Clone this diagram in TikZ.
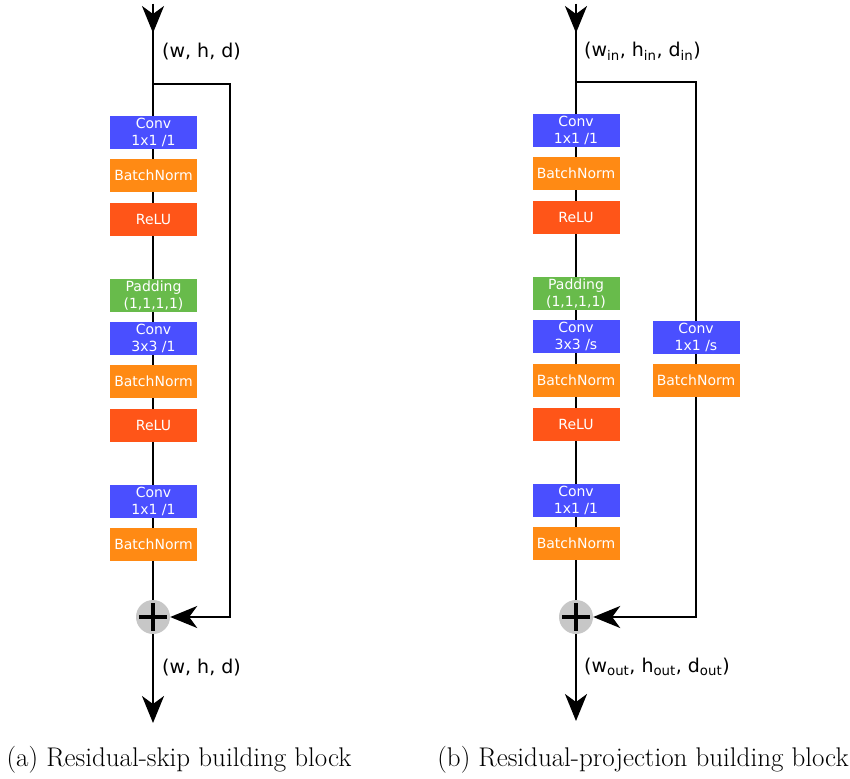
\documentclass[tikz,border=0pt]{standalone}
\usepackage{fontspec}
\usepackage{tikz}
\usetikzlibrary{arrows.meta}
\newfontfamily\dejavu{DejaVu Sans}
\definecolor{convblue}{HTML}{4A4FFF}
\definecolor{bnorange}{HTML}{FF8A14}
\definecolor{relured}{HTML}{FF5518}
\definecolor{padgreen}{HTML}{68BB4B}

\begin{document}
\begin{tikzpicture}[x=1pt,y=-1pt,
  layer/.style={fill=#1,text=white,minimum width=87pt,minimum height=33pt,inner sep=0pt,align=center,font=\dejavu\fontsize{14}{16.5}\selectfont},
  wire/.style={line width=2.2pt},
  flow/.style={wire,-{Stealth[length=27pt,width=22pt,inset=8pt]}},
  dims/.style={anchor=west,inner sep=0pt,font=\dejavu\fontsize{19}{22}\selectfont},
  sum/.style={circle,fill=black!22,minimum size=34pt,inner sep=0pt},
  caption/.style={font=\fontsize{27}{32}\selectfont}]
\useasboundingbox (0,0) rectangle (850,778);

% (a) residual-skip block
\coordinate (a-in) at (153,4);
\coordinate (a-head) at (153,33);
\coordinate (a-split) at (153,84);
\coordinate (a-out) at (153,723);
\node[sum] (a-sum) at (153,617) {};
\draw[wire] (a-in) -- (a-sum);
\draw[flow] (a-in) -- (a-head);
\draw[flow] (a-split) -- ++(77,0) |- (a-sum);
\draw[flow] (a-sum) -- (a-out);
\draw[line width=3.2pt] (a-sum.center) +(-14,0) -- +(14,0) +(0,-14) -- +(0,14);
\foreach \y/\c/\t [count=\i] in %
{132.5/convblue/{Conv\\1x1 /1},175.5/bnorange/BatchNorm,219.5/relured/ReLU,
 295.5/padgreen/{Padding\\(1,1,1,1)},338.5/convblue/{Conv\\3x3 /1},381.5/bnorange/BatchNorm,
 425.5/relured/ReLU,501.5/convblue/{Conv\\1x1 /1},544.5/bnorange/BatchNorm} {
   \node[layer=\c] (a\i) at (153.5,\y) {\t};
}
\node[dims] (a-dimin) at (162,52) {(w, h, d)};
\node[dims] (a-dimout) at (162,668) {(w, h, d)};
\node[caption] (a-cap) at (179,760) {(a) Residual-skip building block};

% (b) residual-projection block
\coordinate (b-in) at (576,4);
\coordinate (b-head) at (576,33);
\coordinate (b-split) at (576,82);
\coordinate (b-out) at (576,721);
\node[sum] (b-sum) at (576,617) {};
\draw[wire] (b-in) -- (b-sum);
\draw[flow] (b-in) -- (b-head);
\draw[flow] (b-split) -- ++(120,0) |- (b-sum);
\draw[flow] (b-sum) -- (b-out);
\draw[line width=3.2pt] (b-sum.center) +(-14,0) -- +(14,0) +(0,-14) -- +(0,14);
\foreach \y/\c/\t [count=\i] in %
{130.5/convblue/{Conv\\1x1 /1},173.5/bnorange/BatchNorm,217.5/relured/ReLU,
 293.5/padgreen/{Padding\\(1,1,1,1)},336.5/convblue/{Conv\\3x3 /s},380.5/bnorange/BatchNorm,
 424.5/relured/ReLU,500.5/convblue/{Conv\\1x1 /1},543.5/bnorange/BatchNorm} {
   \node[layer=\c] (b\i) at (576,\y) {\t};
}
\node[layer=convblue] (p1) at (696,337.5) {Conv\\1x1 /s};
\node[layer=bnorange] (p2) at (696,380.5) {BatchNorm};
\node[dims] (b-dimin) at (584,51) {(w\textsubscript{in}, h\textsubscript{in}, d\textsubscript{in})};
\node[dims] (b-dimout) at (584,667) {(w\textsubscript{out}, h\textsubscript{out}, d\textsubscript{out})};
\node[caption] (b-cap) at (643,760) {(b) Residual-projection building block};
\end{tikzpicture}
\end{document}
